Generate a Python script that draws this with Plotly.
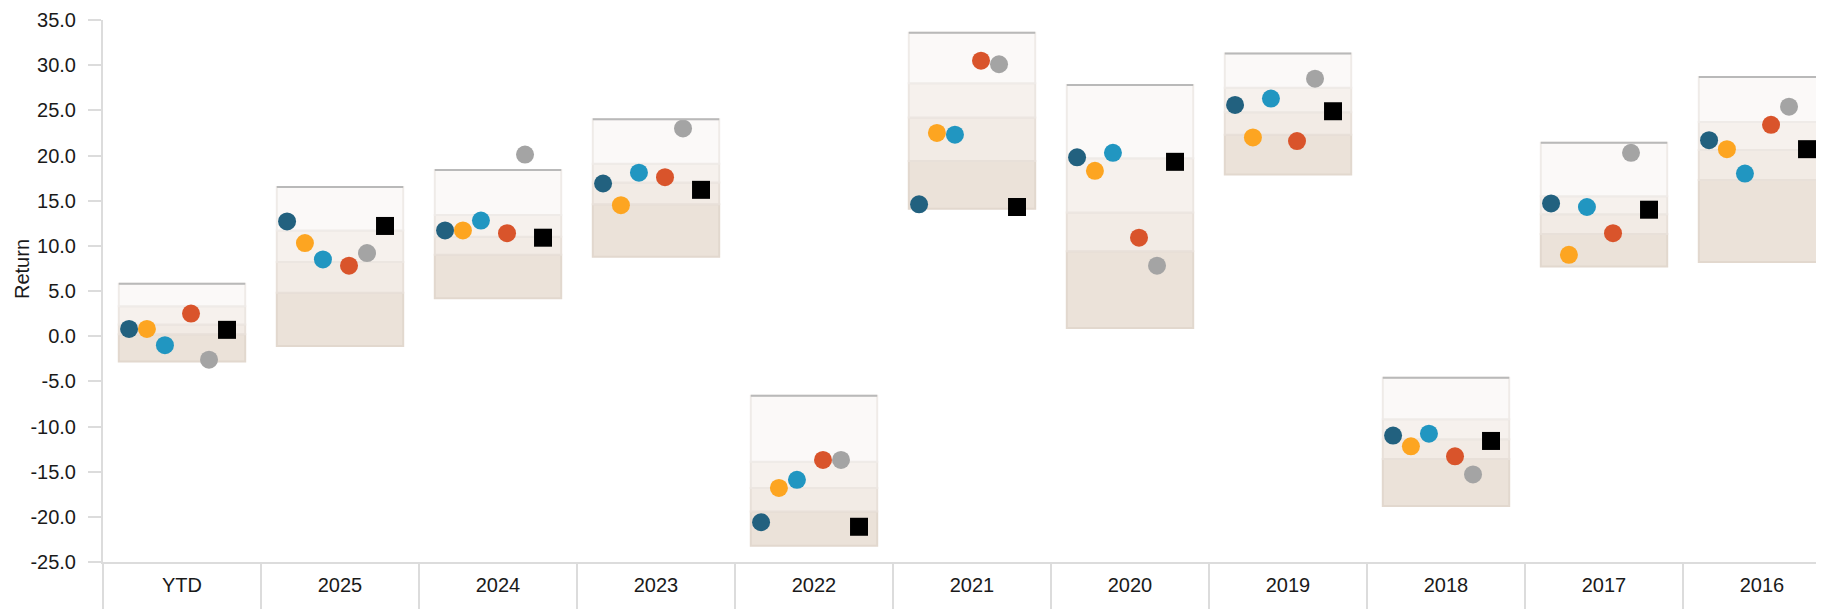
import plotly.graph_objects as go

categories = ["YTD", "2025", "2024", "2023", "2022", "2021", "2020", "2019", "2018", "2017", "2016"]
y_ticks = [-25, -20, -15, -10, -5, 0, 5, 10, 15, 20, 25, 30, 35]
y_tick_labels = ["-25.0", "-20.0", "-15.0", "-10.0", "-5.0", "0.0", "5.0", "10.0",
                 "15.0", "20.0", "25.0", "30.0", "35.0"]

# Peer-group percentile bands (top, 75th, median, 25th, bottom)
band_top = [5.8, 16.5, 18.4, 24.0, -6.6, 33.6, 27.8, 31.3, -4.6, 21.4, 28.7]
band_q75 = [3.3, 11.7, 13.4, 19.1, -13.9, 28.0, 19.7, 27.5, -9.2, 15.5, 23.7]
band_med = [1.3, 8.2, 11.0, 17.0, -16.8, 24.2, 13.7, 24.8, -11.4, 13.5, 20.6]
band_q25 = [0.2, 4.8, 9.0, 14.6, -19.4, 19.4, 9.4, 22.3, -13.6, 11.3, 17.3]
band_bot = [-2.8, -1.1, 4.2, 8.8, -23.2, 14.1, 0.9, 17.9, -18.8, 7.7, 8.2]

series_a = [0.8, 12.7, 11.7, 16.9, -20.6, 14.6, 19.8, 25.6, -11.0, 14.7, 21.7]
series_b = [0.8, 10.3, 11.7, 14.5, -16.8, 22.5, 18.3, 22.0, -12.2, 9.0, 20.7]
series_c = [-1.0, 8.5, 12.8, 18.1, -15.9, 22.3, 20.3, 26.3, -10.8, 14.3, 18.0]
series_d = [2.5, 7.8, 11.4, 17.6, -13.7, 30.5, 10.9, 21.6, -13.3, 11.4, 23.4]
series_e = [-2.6, 9.2, 20.1, 23.0, -13.7, 30.1, 7.8, 28.5, -15.3, 20.3, 25.4]
benchmark = [0.7, 12.2, 10.9, 16.2, -21.1, 14.3, 19.3, 24.9, -11.6, 14.0, 20.7]

xi = list(range(len(categories)))
fig = go.Figure()

bands = [
    (band_bot, band_q25, "#ebe2d9", "#e2d8ce"),
    (band_q25, band_med, "#f2ebe5", "#e8e0d9"),
    (band_med, band_q75, "#f6f1ed", "#ece6e1"),
    (band_q75, band_top, "#fbf9f8", "#efebe8"),
]
for lo, hi, fill, edge in bands:
    fig.add_trace(go.Bar(
        x=xi, base=lo, y=[h - l for h, l in zip(hi, lo)], width=0.8,
        marker=dict(color=fill, line=dict(color=edge, width=2)),
        showlegend=False, hoverinfo="skip"))

for i, t in zip(xi, band_top):
    fig.add_shape(type="line", xref="x", yref="y", x0=i - 0.4, x1=i + 0.4, y0=t, y1=t,
                  line=dict(color="#b9b9b9", width=2))

series = [
    ("Series A", series_a, "#22617f", "circle", -0.335),
    ("Series B", series_b, "#fda521", "circle", -0.222),
    ("Series C", series_c, "#2196c1", "circle", -0.108),
    ("Series D", series_d, "#d9542b", "circle", 0.057),
    ("Series E", series_e, "#a4a4a4", "circle", 0.171),
    ("Benchmark", benchmark, "#000000", "square", 0.285),
]
for name, vals, color, sym, off in series:
    fig.add_trace(go.Scatter(
        x=[i + off for i in xi], y=vals, mode="markers", name=name,
        marker=dict(color=color, size=18, symbol=sym, line=dict(width=0)),
        showlegend=False))

# plot area: page x 103..1824, page y 20..562 (page has an 8px body margin)
fig.add_annotation(text="Return", xref="paper", yref="paper", x=(22 - 103) / 1721,
                   y=(562 - 269) / 542,
                   textangle=-90, showarrow=False, xanchor="center", yanchor="middle",
                   font=dict(size=20, color="#1a1a1a", family="Liberation Sans, Arial"))

fig.update_layout(
    width=1816, height=601,
    margin=dict(l=95, r=0, t=12, b=47, autoexpand=False),
    paper_bgcolor="white", plot_bgcolor="white",
    barmode="overlay",
    font=dict(family="Liberation Sans, Arial", color="#1a1a1a"),
    xaxis=dict(
        range=[-0.5, -0.5 + 1721 / 158], tickvals=xi, ticktext=categories,
        ticks="", showgrid=False, zeroline=False, automargin=False,
        showline=True, linecolor="#dcdcdc", linewidth=2,
        tickfont=dict(size=20), ticklabelstandoff=4,
        minor=dict(ticks="outside", ticklen=47, tickwidth=2, tickcolor="#dcdcdc",
                   tick0=-0.5, dtick=1, showgrid=False),
    ),
    yaxis=dict(
        range=[-25, 35], tickvals=y_ticks, ticktext=y_tick_labels,
        ticks="outside", ticklen=13, tickwidth=2, tickcolor="#dcdcdc",
        showgrid=False, zeroline=False, automargin=False,
        showline=True, linecolor="#dcdcdc", linewidth=2,
        tickfont=dict(size=20), ticklabelstandoff=8,
    ),
)

fig.write_html("out.html")
